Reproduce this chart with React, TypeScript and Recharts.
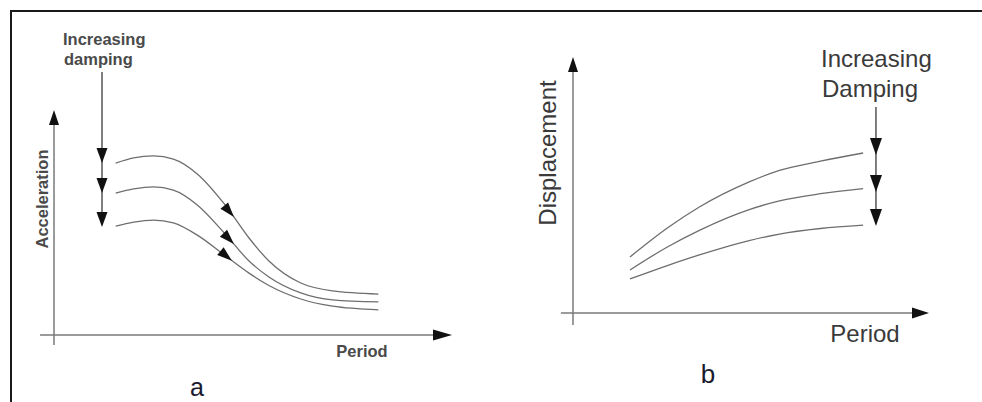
import React from 'react';
import { LineChart, Line, XAxis, YAxis, ReferenceLine, ReferenceDot } from 'recharts';

// Panel a: acceleration spectra
const periodA = [1.55, 2.0, 2.5, 3.0, 3.6, 4.3, 4.9, 5.4, 6.2, 7.0, 8.15];
const accelLow = [7.64, 7.87, 7.96, 7.82, 7.16, 5.78, 4.31, 3.29, 2.31, 1.96, 1.82];
const accelMid = [6.31, 6.49, 6.58, 6.44, 5.78, 4.49, 3.29, 2.58, 1.87, 1.56, 1.47];
const accelHigh = [4.84, 5.02, 5.11, 4.98, 4.44, 3.53, 2.75, 2.2, 1.6, 1.28, 1.12];
// arrowheads on curves a (tip positions)
const curveArrowX = [4.52, 4.52, 4.47];
const curveArrowY = [5.24, 4.04, 3.3];
const curveArrowAngle = [50, 46, 40];
// damping arrow a
const dampAX = 1.206;
const dampATop = 11.69;
const dampATips = [7.64, 6.31, 4.8];

// Panel b: displacement spectra
const periodB = [1.6, 2.65, 3.55, 4.95, 5.8, 6.95, 8.15];
const dispLow = [2.19, 3.32, 4.14, 5.12, 5.57, 5.93, 6.25];
const dispMid = [1.68, 2.58, 3.23, 4.04, 4.38, 4.66, 4.86];
const dispHigh = [1.33, 1.855, 2.27, 2.83, 3.085, 3.3, 3.43];
const dampBX = 8.51;
const dampBTop = 8.05;
const dampBTips = [6.17, 4.73, 3.4];

const dataA = periodA.map((p, i) => ({ period: p, low: accelLow[i], mid: accelMid[i], high: accelHigh[i] }));
const dataB = periodB.map((p, i) => ({ period: p, low: dispLow[i], mid: dispMid[i], high: dispHigh[i] }));

const FONT = '"Liberation Sans", Arial, sans-serif';
const CURVE = '#6e6e6e';
const AXIS = '#7a7a7a';
const HEAD = '#111111';

const arrowhead = (angle: number, len: number, wid: number, color: string) => (props: any) => {
  const { cx, cy } = props;
  if (cx == null || cy == null) return <g />;
  const a = (angle * Math.PI) / 180;
  const c = Math.cos(a);
  const s = Math.sin(a);
  const bx = cx - len * c;
  const by = cy - len * s;
  const px = (-s * wid) / 2;
  const py = (c * wid) / 2;
  return <path d={`M${cx},${cy}L${bx + px},${by + py}L${bx - px},${by - py}Z`} fill={color} />;
};

const PanelA = () => (
  <LineChart width={491} height={402} data={dataA} margin={{ top: 110, right: 39, bottom: 67, left: 54 }}>
    <XAxis type="number" dataKey="period" domain={[0, 10]} hide />
    <YAxis type="number" domain={[0, 10]} hide />
    <ReferenceLine segment={[{ x: -0.35, y: 0 }, { x: 9.8, y: 0 }]} stroke={AXIS} strokeWidth={1.5} ifOverflow="visible" />
    <ReferenceLine segment={[{ x: 0, y: -0.44 }, { x: 0, y: 9.8 }]} stroke={AXIS} strokeWidth={1.5} ifOverflow="visible" />
    <ReferenceDot x={10} y={0} r={1} ifOverflow="visible" shape={arrowhead(0, 19, 11, HEAD)} />
    <ReferenceDot x={0} y={10} r={1} ifOverflow="visible" shape={arrowhead(-90, 15, 10, HEAD)} />
    <ReferenceLine segment={[{ x: dampAX, y: dampATop }, { x: dampAX, y: dampATips[2] + 0.2 }]} stroke="#555" strokeWidth={1.5} ifOverflow="visible" />
    {dampATips.map((t, i) => (
      <ReferenceDot key={'da' + i} x={dampAX} y={t} r={1} ifOverflow="visible" shape={arrowhead(90, 15, 11, HEAD)} />
    ))}
    <Line type="monotone" dataKey="low" stroke={CURVE} strokeWidth={1.3} dot={false} isAnimationActive={false} />
    <Line type="monotone" dataKey="mid" stroke={CURVE} strokeWidth={1.3} dot={false} isAnimationActive={false} />
    <Line type="monotone" dataKey="high" stroke={CURVE} strokeWidth={1.3} dot={false} isAnimationActive={false} />
    {curveArrowX.map((x, i) => (
      <ReferenceDot key={'ca' + i} x={x} y={curveArrowY[i]} r={1} ifOverflow="visible" shape={arrowhead(curveArrowAngle[i], 15, 10, HEAD)} />
    ))}
  </LineChart>
);

const PanelB = () => (
  <LineChart width={491} height={402} data={dataB} margin={{ top: 57, right: 53, bottom: 89, left: 82 }}>
    <XAxis type="number" dataKey="period" domain={[0, 10]} hide />
    <YAxis type="number" domain={[0, 10]} hide />
    <ReferenceLine segment={[{ x: -0.34, y: 0 }, { x: 9.8, y: 0 }]} stroke={AXIS} strokeWidth={1.5} ifOverflow="visible" />
    <ReferenceLine segment={[{ x: 0, y: -0.47 }, { x: 0, y: 9.8 }]} stroke={AXIS} strokeWidth={1.5} ifOverflow="visible" />
    <ReferenceDot x={10} y={0} r={1} ifOverflow="visible" shape={arrowhead(0, 17, 11, HEAD)} />
    <ReferenceDot x={0} y={10} r={1} ifOverflow="visible" shape={arrowhead(-90, 15, 10, HEAD)} />
    <ReferenceLine segment={[{ x: dampBX, y: dampBTop }, { x: dampBX, y: dampBTips[2] + 0.2 }]} stroke="#555" strokeWidth={1.5} ifOverflow="visible" />
    {dampBTips.map((t, i) => (
      <ReferenceDot key={'db' + i} x={dampBX} y={t} r={1} ifOverflow="visible" shape={arrowhead(90, 17, 12, HEAD)} />
    ))}
    <Line type="monotone" dataKey="low" stroke={CURVE} strokeWidth={1.3} dot={false} isAnimationActive={false} />
    <Line type="monotone" dataKey="mid" stroke={CURVE} strokeWidth={1.3} dot={false} isAnimationActive={false} />
    <Line type="monotone" dataKey="high" stroke={CURVE} strokeWidth={1.3} dot={false} isAnimationActive={false} />
  </LineChart>
);

export default function App() {
  return (
    <div style={{ position: 'absolute', left: 0, top: 0, width: 982, height: 402, background: '#fff', overflow: 'hidden' }}>
      <div style={{ position: 'absolute', left: 10, top: 10, width: 990, height: 400, borderLeft: '2px solid #1a1a1a', borderTop: '2px solid #1a1a1a' }} />
      <div style={{ position: 'absolute', left: 0, top: 0 }}>
        <PanelA />
      </div>
      <div style={{ position: 'absolute', left: 491, top: 0 }}>
        <PanelB />
      </div>
      <svg width={982} height={402} style={{ position: 'absolute', left: 0, top: 0, pointerEvents: 'none' }}>
        <g fontFamily={FONT} fontWeight="bold" fontSize={16.5} fill="#4a4a4a">
          <text x={63} y={45}>Increasing</text>
          <text x={64} y={65}>damping</text>
          <text transform="translate(48,199) rotate(-90)" textAnchor="middle">Acceleration</text>
          <text x={362} y={357} textAnchor="middle">Period</text>
        </g>
        <g fontFamily={FONT} fontSize={24} fill="#3a3a3a">
          <text x={821} y={67}>Increasing</text>
          <text x={822} y={97}>Damping</text>
          <text transform="translate(556,153) rotate(-90)" textAnchor="middle">Displacement</text>
          <text x={865} y={342} textAnchor="middle">Period</text>
        </g>
        <g fontFamily={FONT} fill="#1a1a2e" textAnchor="middle">
          <text x={197} y={396} fontSize={25}>a</text>
          <text x={708} y={383} fontSize={26}>b</text>
        </g>
      </svg>
    </div>
  );
}
